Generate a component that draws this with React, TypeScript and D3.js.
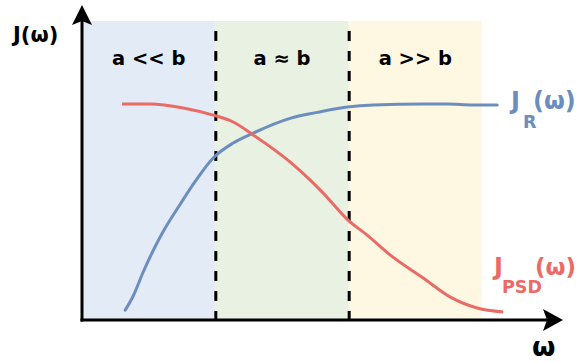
import React, { useEffect, useRef } from "react";
import * as d3 from "d3";

const width = 578;
const height = 362;

// regions along omega (x in arbitrary units, 0..10 covers the shaded part)
const regionLabels = ["a << b", "a ≈ b", "a >> b"];
const regionEdges = [0, 3.333, 6.667, 10];
const regionColors = ["#e3ebf7", "#e9f1e3", "#fef8e3"];

// J_R(omega), blue, rising
const jrX = [1.08, 1.28, 1.53, 1.83, 2.03, 2.45, 2.83, 3.28, 3.78, 4.28, 5.2, 5.88, 6.63, 7.28, 8.53, 9.13, 9.78, 10.38];
const jrY = [0.33, 0.8, 1.6, 2.45, 2.95, 3.85, 4.62, 5.4, 5.9, 6.23, 6.72, 6.92, 7.1, 7.17, 7.2, 7.2, 7.17, 7.17];

// J_PSD(omega), red, falling
const psdX = [1.0, 1.7, 2.53, 3.28, 3.78, 4.28, 5.2, 5.7, 6.03, 6.65, 7.13, 7.7, 8.53, 9.2, 9.88, 10.53];
const psdY = [7.2, 7.2, 7.07, 6.83, 6.6, 6.17, 5.27, 4.67, 4.23, 3.33, 2.83, 2.17, 1.4, 0.77, 0.4, 0.27];

const FONT = "'DejaVu Sans', sans-serif";

const App = () => {
  const svgRef = useRef(null);

  useEffect(() => {
    const svg = d3.select(svgRef.current);
    svg.selectAll("*").remove();

    const x = d3.scaleLinear().domain([0, 10]).range([82, 482]);
    const y = d3.scaleLinear().domain([0, 10]).range([320, 20]);

    // shaded regions
    svg
      .selectAll("rect.region")
      .data(regionLabels)
      .join("rect")
      .attr("class", "region")
      .attr("x", (d, i) => x(regionEdges[i]))
      .attr("y", y(10) + 1)
      .attr("width", (d, i) => x(regionEdges[i + 1]) - x(regionEdges[i]))
      .attr("height", y(0) - y(10) - 1)
      .attr("fill", (d, i) => regionColors[i]);

    // region titles
    svg
      .selectAll("text.region")
      .data(regionLabels)
      .join("text")
      .attr("class", "region")
      .attr("x", (d, i) => (x(regionEdges[i]) + x(regionEdges[i + 1])) / 2)
      .attr("y", 65)
      .attr("text-anchor", "middle")
      .attr("font-family", FONT)
      .attr("font-weight", "bold")
      .attr("font-size", 19.5)
      .attr("fill", "#000")
      .text((d) => d);

    // dashed boundaries
    svg
      .selectAll("line.bound")
      .data(regionEdges.slice(1, 3))
      .join("line")
      .attr("class", "bound")
      .attr("x1", (d) => x(d) + 0.5)
      .attr("x2", (d) => x(d) + 0.5)
      .attr("y1", 31)
      .attr("y2", y(0))
      .attr("stroke", "#000")
      .attr("stroke-width", 3)
      .attr("stroke-dasharray", "10,10");

    const line = d3
      .line()
      .x((d) => x(d[0]))
      .y((d) => y(d[1]))
      .curve(d3.curveMonotoneX);

    svg
      .append("path")
      .datum(jrX.map((v, i) => [v, jrY[i]]))
      .attr("fill", "none")
      .attr("stroke", "#6c8ebf")
      .attr("stroke-width", 3)
      .attr("stroke-linecap", "round")
      .attr("d", line);

    svg
      .append("path")
      .datum(psdX.map((v, i) => [v, psdY[i]]))
      .attr("fill", "none")
      .attr("stroke", "#ea6b66")
      .attr("stroke-width", 3)
      .attr("d", line);

    // axes
    const x0 = x(0);
    const y0 = y(0);
    svg
      .append("line")
      .attr("x1", x0)
      .attr("x2", x0)
      .attr("y1", y0 + 1.5)
      .attr("y2", 20)
      .attr("stroke", "#000")
      .attr("stroke-width", 3);
    svg
      .append("path")
      .attr("d", `M${x0},5 L${x0 + 10},25 L${x0},21 L${x0 - 10},25 Z`)
      .attr("fill", "#000");

    svg
      .append("line")
      .attr("x1", x0 - 1.5)
      .attr("x2", 550)
      .attr("y1", y0)
      .attr("y2", y0)
      .attr("stroke", "#000")
      .attr("stroke-width", 3);
    svg
      .append("path")
      .attr("d", `M563,${y0} L543,${y0 + 11} L547,${y0} L543,${y0 - 11} Z`)
      .attr("fill", "#000");

    // axis labels
    svg
      .append("text")
      .attr("x", 13)
      .attr("y", 42)
      .attr("font-family", FONT)
      .attr("font-weight", "bold")
      .attr("font-size", 21)
      .text("J(ω)");

    svg
      .append("text")
      .attr("x", 532)
      .attr("y", 356)
      .attr("font-family", FONT)
      .attr("font-weight", "bold")
      .attr("font-size", 27)
      .text("ω");

    // series labels
    const jr = svg
      .append("text")
      .attr("font-family", FONT)
      .attr("font-weight", "bold")
      .attr("fill", "#6c8ebf");
    jr.append("tspan").attr("x", 511).attr("y", 109).attr("font-size", 24).text("J");
    jr.append("tspan").attr("x", 523).attr("y", 128).attr("font-size", 17.5).text("R");
    jr.append("tspan").attr("x", 533).attr("y", 109).attr("font-size", 24).text("(ω)");

    const psd = svg
      .append("text")
      .attr("font-family", FONT)
      .attr("font-weight", "bold")
      .attr("fill", "#ea6b66");
    psd.append("tspan").attr("x", 494).attr("y", 275).attr("font-size", 24).text("J");
    psd.append("tspan").attr("x", 502).attr("y", 293).attr("font-size", 17.5).text("PSD");
    psd.append("tspan").attr("x", 535).attr("y", 275).attr("font-size", 23).text("(ω)");
  }, []);

  return (
    <svg
      ref={svgRef}
      width={width}
      height={height}
      style={{ position: "absolute", left: 0, top: 0, background: "#fff" }}
    ></svg>
  );
};

export default App;
